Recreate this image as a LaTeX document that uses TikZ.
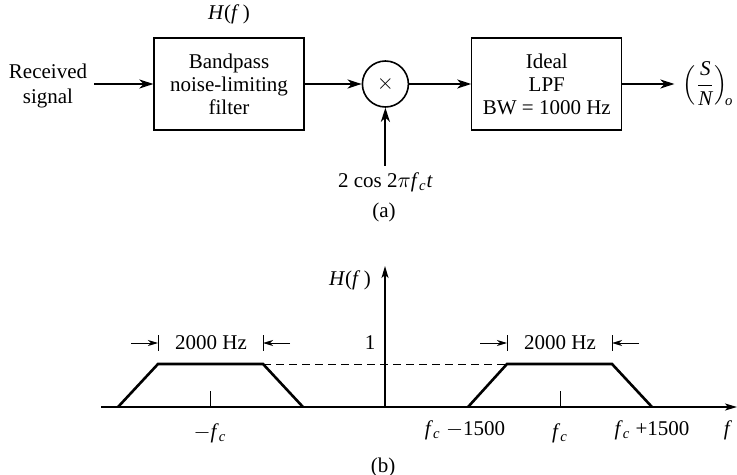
\documentclass[tikz,border=0pt]{standalone}
\usepackage{amsmath}
\usepackage{fontspec}
\setmainfont{Liberation Serif}
\usetikzlibrary{arrows.meta,positioning}

\begin{document}
\begin{tikzpicture}[
  x=0.5pt, y=-0.5pt,
  font=\fontsize{10.5}{11.5}\selectfont,
  blk/.style={draw, line width=0.6pt, minimum width=75pt, minimum height=46pt, align=center},
  mix/.style={draw, circle, line width=0.8pt, minimum size=23pt, inner sep=0pt},
  arr/.style={-{Stealth[length=7pt, width=4.5pt, inset=2pt]}, line width=1pt},
  dim/.style={-{Stealth[length=5pt, width=3pt, inset=1.5pt]}, line width=0.5pt},
  axis/.style={-{Stealth[length=6pt, width=3.5pt, inset=1.5pt]}, line width=0.7pt},
  trap/.style={line width=1.3pt, line join=miter},
  node distance=28pt and 28pt,
]
  \useasboundingbox (0,0) rectangle (737,475);

  % Top: receiver chain
  \node[blk] (bpf) at (229,84) {Bandpass\\noise-limiting\\filter};
  \node[above=3pt of bpf] (hf) {\textit{H}(\textit{f}\,)};
  \node[align=center, font=\fontsize{10.5}{12.5}\selectfont] (recv) at (48,86) {Received\\signal};
  \node[mix, right=28.5pt of bpf] (mix) {$\times$};
  \node[blk, right=31pt of mix] (lpf) {Ideal\\LPF\\BW = 1000 Hz};
  \node[right=29pt of lpf, inner sep=1pt] (snr) {$\Bigl(\dfrac{\textit{S}}{\textit{N}}\Bigr)_{\!\textit{o}}$};
  \node[below=29pt of mix] (osc) {2 cos 2$\pi$\textit{f}\textsubscript{\textit{c}}\textit{t}};
  \node (capa) at (384,212) {(a)};

  % Top: connections
  \draw[arr] (recv.east |- bpf.west) -- (bpf.west);
  \draw[arr] (bpf) -- (mix);
  \draw[arr] (mix) -- (lpf);
  \draw[arr] (lpf.east) -- ([xshift=-3pt]lpf.east -| snr.west);
  \draw[arr] (osc) -- (mix);

  % Bottom: frequency response
  \draw[axis] (101,407) -- (737,407);
  \draw[axis] (385,407) -- (385,266);
  \node (hfb) at (350,280) {\textit{H}(\textit{f}\,)};
  \node (one) at (370,343) {1};
  \draw[dash pattern=on 4pt off 2.5pt, line width=0.5pt] (263,364) -- (507,364);
  \draw[trap] (118,407) -- (158,364) -- (263,364) -- (303,407);
  \draw[trap] (468,407) -- (507,364) -- (612,364) -- (652,407);
  \draw[line width=0.5pt] (210,407) -- (210,391);
  \draw[line width=0.5pt] (560,407) -- (560,391);

  % Bandwidth marks
  \draw[line width=0.5pt] (158,335) -- (158,351);
  \draw[line width=0.5pt] (263,335) -- (263,351);
  \draw[dim] (131,343) -- (158,343);
  \draw[dim] (290,343) -- (263,343);
  \node (bwl) at (211,343) {2000 Hz};
  \draw[line width=0.5pt] (507,335) -- (507,351);
  \draw[line width=0.5pt] (612,335) -- (612,351);
  \draw[dim] (480,343) -- (507,343);
  \draw[dim] (639,343) -- (612,343);
  \node (bwr) at (560,343) {2000 Hz};

  % Axis labels
  \node (mfc) at (210,433) {$-$\textit{f}\textsubscript{\textit{c}}};
  \node (lo) at (465,430) {\textit{f}\textsubscript{\textit{c}} $-$1500};
  \node (fc) at (560,433) {\textit{f}\textsubscript{\textit{c}}};
  \node (hi) at (652,430) {\textit{f}\textsubscript{\textit{c}} +1500};
  \node (fax) at (728,430) {\textit{f}};
  \node (capb) at (383,467) {(b)};
\end{tikzpicture}
\end{document}
